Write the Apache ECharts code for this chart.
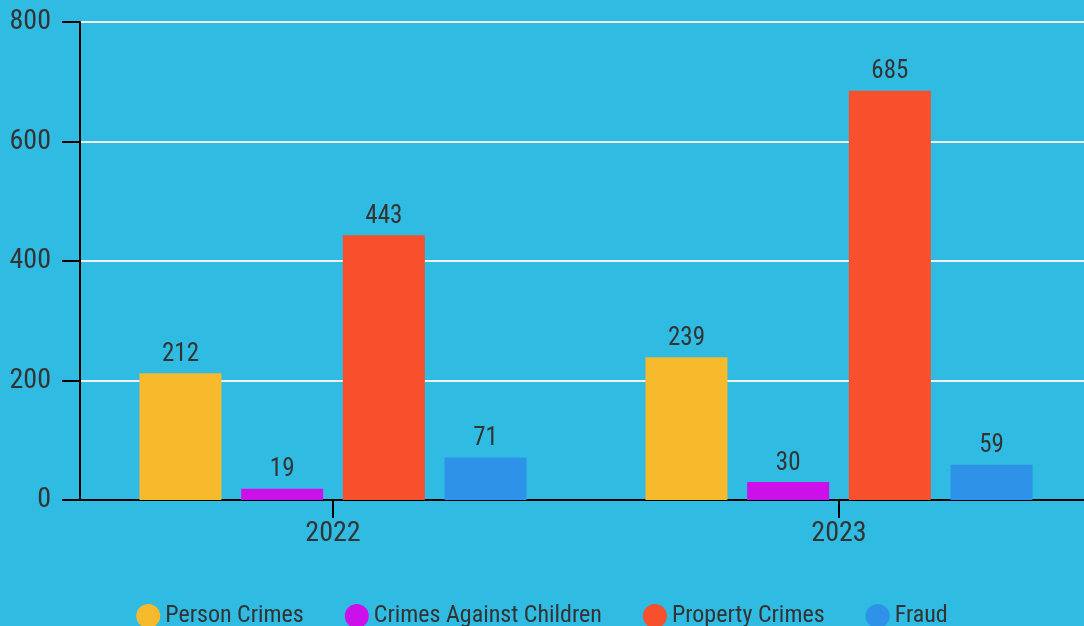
<!DOCTYPE html>
<html>
<head>
<meta charset="utf-8">
<script src="https://cdn.jsdelivr.net/npm/echarts@6/dist/echarts.min.js"></script>
<style>
  html, body { margin: 0; padding: 0; background: #30bbe3; }
  #chart { width: 1084px; height: 626px; }
</style>
</head>
<body>
<div id="chart"></div>
<script>
const years = ['2022', '2023'];
const seriesNames = ['Person Crimes', 'Crimes Against Children', 'Property Crimes', 'Fraud'];
const personCrimes = [212, 239];
const childCrimes = [19, 30];
const propertyCrimes = [443, 685];
const fraud = [71, 59];
const colors = ['#f7ba2c', '#cc10ea', '#f8502c', '#2e93e8'];
const yTicks = { min: 0, max: 800, interval: 200 };

const font = "'Roboto Condensed', 'Liberation Sans Narrow', 'DejaVu Sans Condensed', Roboto, sans-serif";
const textColor = '#333333';

const chart = echarts.init(document.getElementById('chart'));

const values = [personCrimes, childCrimes, propertyCrimes, fraud];

chart.setOption({
  backgroundColor: '#30bbe3',
  textStyle: { fontFamily: font },
  grid: { left: 80, width: 1012, top: 22, height: 478, containLabel: false, outerBoundsMode: 'none' },
  legend: {
    bottom: -7,
    left: 'center',
    icon: 'circle',
    itemWidth: 24,
    itemHeight: 24,
    itemGap: 41,
    textStyle: { fontFamily: font, fontSize: 24, color: textColor },
    data: seriesNames
  },
  xAxis: {
    type: 'category',
    data: years,
    axisLine: { lineStyle: { color: '#000', width: 2 } },
    axisTick: { show: true, interval: 0, alignWithLabel: true, length: 18, lineStyle: { color: '#000', width: 2 } },
    axisLabel: { fontFamily: font, fontSize: 28, color: textColor, margin: 20 }
  },
  yAxis: {
    type: 'value',
    min: yTicks.min,
    max: yTicks.max,
    interval: yTicks.interval,
    axisLine: { show: true, lineStyle: { color: '#000', width: 2 } },
    axisTick: { show: true, length: 18, lineStyle: { color: '#000', width: 2 } },
    axisLabel: { fontFamily: font, fontSize: 28, color: textColor, margin: 29 },
    splitLine: { lineStyle: { color: '#f0f0f0', width: 2 } }
  },
  series: seriesNames.map((name, i) => ({
    name: name,
    type: 'bar',
    data: values[i],
    barWidth: 82,
    barGap: '24%',
    itemStyle: { color: colors[i] },
    label: {
      show: true,
      position: 'top',
      distance: 6,
      fontFamily: font,
      fontSize: 25,
      color: textColor
    }
  }))
});
</script>
</body>
</html>
